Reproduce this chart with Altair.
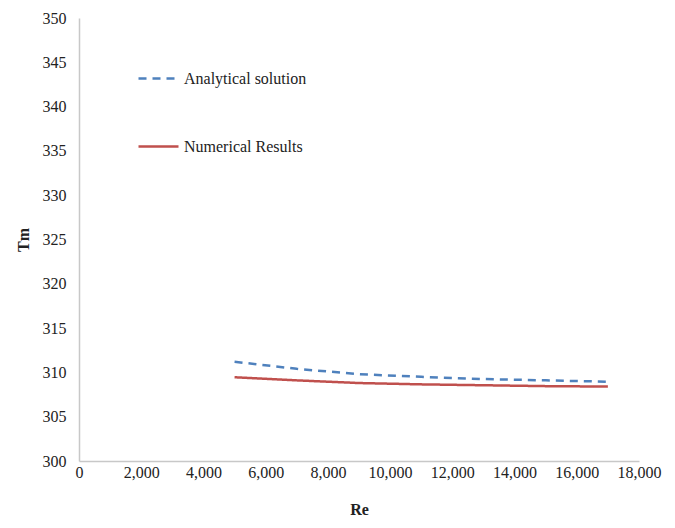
import altair as alt
import pandas as pd

re_vals = [5000, 7000, 9000, 11000, 13000, 15000, 17000]
analytical = [311.2, 310.4, 309.8, 309.5, 309.25, 309.1, 308.95]
numerical = [309.45, 309.1, 308.8, 308.65, 308.55, 308.45, 308.4]
series = ["Analytical solution", "Numerical Results"]

rows = []
for r, a in zip(re_vals, analytical):
    rows.append({"Re": r, "Tm": a, "Series": series[0]})
for r, n in zip(re_vals, numerical):
    rows.append({"Re": r, "Tm": n, "Series": series[1]})
df = pd.DataFrame(rows)

FONT = "Liberation Serif"

chart = alt.Chart(df).mark_line(strokeWidth=2.5).encode(
    x=alt.X("Re:Q", scale=alt.Scale(domain=[0, 18000], nice=False),
            axis=alt.Axis(title="Re", values=list(range(0, 18001, 2000)), format=",d",
                          grid=False, ticks=False, labelPadding=3, titlePadding=21,
                          labelFlush=False, labelOverlap=False,
                          domainColor="#c8c8c8", domainWidth=1.5)),
    y=alt.Y("Tm:Q", scale=alt.Scale(domain=[300, 350], nice=False, zero=False),
            axis=alt.Axis(title="Tm", values=list(range(300, 351, 5)), grid=False,
                          ticks=False, labelPadding=13, titlePadding=11,
                          labelFlush=False, labelOverlap=False,
                          domainColor="#c8c8c8", domainWidth=1.5)),
    color=alt.Color("Series:N", scale=alt.Scale(domain=series, range=["#4f81bd", "#c0504d"]),
                    legend=alt.Legend(title=None, orient="none", legendX=58, legendY=39,
                                      symbolType="stroke", symbolSize=1600, symbolStrokeWidth=2.5,
                                      rowPadding=38, labelFont=FONT, labelFontSize=16,
                                      labelColor="#222", labelOffset=4)),
    strokeDash=alt.StrokeDash("Series:N", scale=alt.Scale(domain=series, range=[[8, 6], [1, 0]]),
                              legend=None),
).properties(
    width=560, height=443,
    autosize=alt.AutoSizeParams(type="none"),
    padding={"left": 71, "top": 10, "right": 28, "bottom": 59},
).configure_view(stroke=None).configure_axis(
    labelFont=FONT, labelFontSize=16, labelColor="#222",
    titleFont=FONT, titleFontSize=16, titleFontWeight="bold", titleColor="#222",
).configure_legend(symbolDash=[8, 5])

chart.save("out.html", embed_options={"renderer": "svg", "actions": False})
